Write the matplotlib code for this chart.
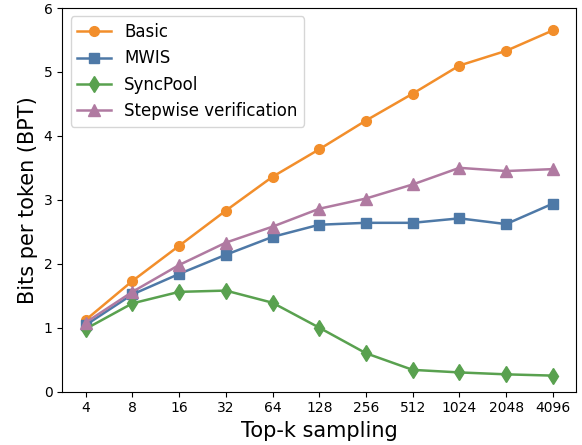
import matplotlib
matplotlib.use('Agg')
import matplotlib.pyplot as plt

k_labels = ['4', '8', '16', '32', '64', '128', '256', '512', '1024', '2048', '4096']
basic = [1.12, 1.73, 2.28, 2.83, 3.36, 3.79, 4.24, 4.66, 5.10, 5.33, 5.65]
mwis = [1.04, 1.52, 1.84, 2.14, 2.42, 2.61, 2.64, 2.64, 2.71, 2.62, 2.94]
syncpool = [0.98, 1.38, 1.56, 1.58, 1.39, 1.00, 0.60, 0.34, 0.30, 0.27, 0.25]
stepwise = [1.08, 1.56, 1.98, 2.33, 2.58, 2.86, 3.02, 3.24, 3.50, 3.45, 3.48]

x = list(range(len(k_labels)))

fig, ax = plt.subplots(figsize=(5.82, 4.45), dpi=100)

ax.plot(x, basic, marker='o', color='#F28E2B', label='Basic', lw=1.8, ms=7)
ax.plot(x, mwis, marker='s', color='#4E79A7', label='MWIS', lw=1.8, ms=7)
ax.plot(x, syncpool, marker='d', color='#59A14F', label='SyncPool', lw=1.8, ms=8)
ax.plot(x, stepwise, marker='^', color='#B07AA1', label='Stepwise verification', lw=1.8, ms=8)

ax.set_xticks(x)
ax.set_xticklabels(k_labels, fontsize=10)
ax.set_xlim(-0.5, len(x) - 0.5)
ax.set_ylim(0, 6)
ax.tick_params(axis='y', labelsize=10)
ax.set_xlabel('Top-k sampling', fontsize=15)
ax.set_ylabel('Bits per token (BPT)', fontsize=15)

ax.legend(loc='upper left', fontsize=12)

fig.subplots_adjust(left=0.107, right=0.99, top=0.982, bottom=0.12)
fig.savefig('out.png', dpi=100)
